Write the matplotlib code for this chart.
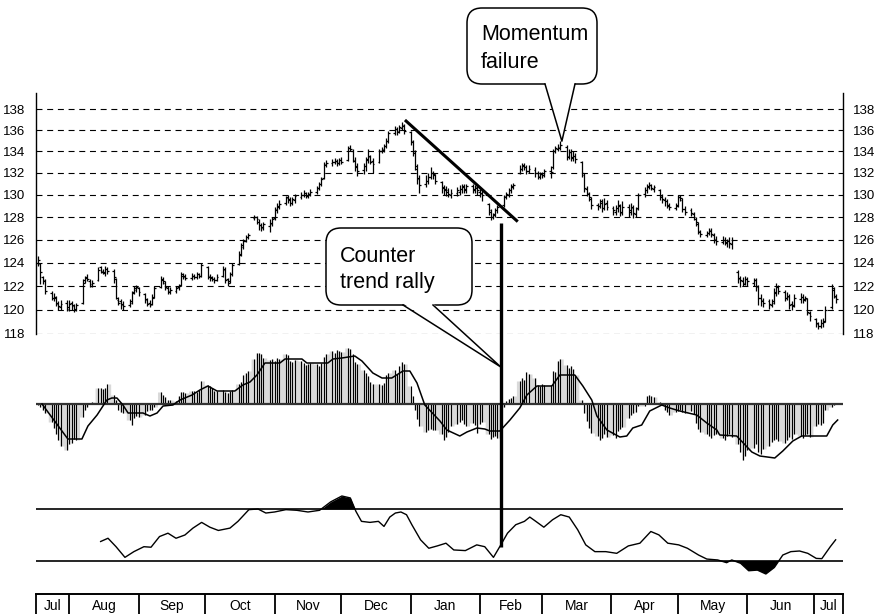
import matplotlib
matplotlib.use('Agg')
import matplotlib.pyplot as plt
import numpy as np
import pandas as pd
from matplotlib import font_manager
from matplotlib.patches import FancyBboxPatch, Polygon
from matplotlib.lines import Line2D
from matplotlib.transforms import IdentityTransform
from matplotlib.ticker import NullLocator, NullFormatter

# ---------------- data ----------------
START = pd.Timestamp('2000-07-17')
bar_dates = pd.bdate_range('2000-07-18', '2001-07-11')

opens = [
    124.0, 123.9, 122.8, 122.4,
    121.4, 121.0, 121.0, 120.5, 120.2,
    120.6, 120.1, 120.6, 120.4, 120.0,
    120.6, 122.5, 122.8, 122.4, 122.0,
    122.5, 123.6, 123.2, 123.1, 123.5,
    123.3, 122.6, 120.8, 120.7, 120.5,
    120.4, 120.7, 121.5, 121.7, 121.8,
    121.3, 120.8, 120.6, 120.5, 121.1,
    121.9, 122.5, 122.3, 121.8, 121.5,
    121.6, 121.9, 122.1, 122.9, 122.8,
    122.7, 122.9, 122.8, 123.0, 122.9,
    123.6, 122.8, 122.8, 122.6, 122.5,
    122.9, 123.4, 122.6, 122.4, 123.0,
    123.9, 124.7, 125.4, 125.9, 126.2,
    127.9, 128.0, 127.6, 127.3, 127.0,
    127.2, 127.4, 127.9, 128.6, 128.9,
    129.3, 129.8, 129.6, 129.3, 129.5,
    129.8, 130.0, 130.2, 129.9, 130.1,
    130.3, 130.6, 131.0, 131.5, 132.7,
    132.9, 133.0, 133.1, 132.9, 133.2,
    133.2, 134.3, 134.0, 133.1, 132.6,
    132.3, 132.6, 133.2, 133.5, 133.1,
    133.0, 134.0, 134.1, 134.5, 135.0,
    135.7, 136.1, 135.9, 136.2, 136.4,
    135.8, 134.9, 133.8, 132.4, 131.4,
    131.0, 131.3, 131.6, 132.0, 131.8,
    131.2, 130.7, 130.5, 130.4, 130.0,
    130.2, 130.3, 130.5, 130.8, 130.4,
    130.8, 130.4, 130.7, 130.3, 130.2,
    129.2, 128.5, 128.0, 128.3, 128.6,
    129.1, 129.9, 130.0, 130.4, 130.7,
    132.0, 132.4, 132.7, 132.5, 132.2,
    132.3, 132.0, 131.6, 131.9, 131.8,
    132.2, 132.5, 134.0, 134.2, 134.3,
    134.4, 133.5, 133.9, 133.5, 133.6,
    133.0, 131.8, 130.5, 130.1, 129.6,
    129.1, 129.0, 129.4, 128.8, 129.3,
    128.8, 128.5, 128.8, 129.0, 128.4,
    128.9, 128.5, 128.8, 128.3, 128.8,
    130.1, 130.4, 130.7, 130.9, 130.5,
    130.4, 129.9, 129.5, 129.4, 129.0,
    128.8, 129.1, 129.8, 129.5, 128.7,
    128.6, 128.3, 127.8, 127.4, 126.8,
    126.4, 126.6, 126.9, 126.4, 126.0,
    125.8, 126.0, 125.7, 126.0, 125.6,
    123.2, 122.6, 122.4, 122.2, 122.6,
    122.3, 122.5, 121.9, 121.0, 120.7,
    120.7, 120.4, 120.7, 121.4, 121.9,
    121.5, 121.0, 121.1, 120.5, 120.4,
    120.9, 121.1, 120.8, 120.9, 119.7,
    119.2, 118.8, 118.7, 118.9, 119.1,
    120.2, 121.7, 121.1,
]

highs = [
    124.6, 124.0, 122.9, 122.6,
    121.6, 121.4, 121.2, 120.7, 120.8,
    120.8, 120.8, 120.7, 120.5, 120.6,
    122.6, 122.9, 123.0, 122.6, 122.5,
    123.6, 123.7, 123.5, 123.7, 123.6,
    123.5, 122.7, 121.1, 120.9, 120.7,
    120.9, 121.6, 122.0, 122.1, 121.9,
    121.4, 121.0, 120.8, 121.3, 122.0,
    122.9, 122.8, 122.4, 122.0, 121.9,
    122.0, 122.2, 123.2, 123.1, 123.0,
    123.1, 123.0, 123.2, 123.1, 124.0,
    123.7, 123.0, 122.9, 122.8, 123.0,
    123.7, 123.6, 122.7, 123.2, 124.0,
    125.0, 125.7, 126.1, 126.4, 126.6,
    128.2, 128.1, 127.8, 127.5, 127.6,
    127.8, 128.0, 128.9, 129.3, 129.5,
    129.9, 130.0, 129.8, 129.8, 130.1,
    130.3, 130.4, 130.3, 130.3, 130.5,
    130.8, 131.2, 131.6, 133.0, 133.2,
    133.3, 133.4, 133.3, 133.4, 133.5,
    134.5, 134.6, 134.2, 133.5, 132.9,
    132.9, 133.5, 134.2, 133.7, 133.4,
    134.2, 134.4, 134.7, 135.2, 135.9,
    136.4, 136.3, 136.5, 136.8, 136.6,
    135.9, 135.1, 134.1, 132.8, 131.8,
    131.8, 132.0, 132.5, 132.2, 131.9,
    131.3, 130.9, 130.8, 130.6, 130.5,
    130.7, 130.9, 131.0, 131.0, 131.0,
    131.0, 130.9, 130.8, 130.5, 130.4,
    129.3, 128.7, 128.4, 128.8, 129.1,
    130.0, 130.3, 130.6, 131.0, 131.1,
    132.7, 132.9, 132.9, 132.7, 132.7,
    132.5, 132.2, 132.1, 132.1, 132.4,
    132.6, 134.2, 134.5, 134.7, 135.0,
    134.6, 134.2, 134.2, 134.0, 133.8,
    133.1, 132.0, 130.8, 130.3, 129.8,
    129.3, 129.6, 129.6, 129.7, 129.5,
    129.0, 129.1, 129.5, 129.2, 129.4,
    129.2, 129.3, 129.1, 128.9, 130.2,
    130.7, 131.0, 131.2, 131.0, 130.9,
    130.5, 130.1, 129.8, 129.6, 129.3,
    129.3, 130.0, 130.0, 129.7, 129.0,
    128.8, 128.5, 128.0, 127.6, 126.9,
    126.8, 127.0, 127.0, 126.6, 126.3,
    126.3, 126.2, 126.1, 126.2, 126.2,
    123.4, 122.9, 122.8, 122.9, 122.8,
    122.7, 122.7, 122.1, 121.3, 121.0,
    120.9, 120.9, 121.8, 122.3, 122.1,
    121.7, 121.5, 121.3, 120.7, 121.3,
    121.4, 121.3, 121.2, 121.0, 119.9,
    119.3, 119.0, 119.2, 119.3, 120.3,
    122.2, 121.9, 121.3,
]

lows = [
    123.7, 122.2, 122.2, 121.3,
    120.8, 120.7, 120.3, 120.0, 120.0,
    119.9, 119.9, 120.0, 119.8, 119.9,
    120.5, 122.3, 122.4, 121.9, 121.9,
    122.4, 123.1, 123.0, 122.9, 123.0,
    122.3, 120.9, 120.4, 120.1, 120.0,
    120.2, 120.5, 121.3, 121.5, 121.2,
    120.6, 120.3, 120.2, 120.4, 121.0,
    121.8, 122.2, 121.7, 121.3, 121.3,
    121.4, 121.7, 122.0, 122.6, 122.5,
    122.5, 122.6, 122.6, 122.7, 122.8,
    122.6, 122.4, 122.4, 122.3, 122.4,
    122.8, 122.3, 122.0, 122.3, 122.9,
    123.8, 124.6, 125.2, 125.8, 126.1,
    127.7, 127.4, 126.9, 126.8, 126.9,
    126.7, 127.2, 127.7, 128.4, 128.7,
    129.1, 129.3, 129.0, 129.1, 129.3,
    129.6, 129.8, 129.7, 129.7, 129.9,
    130.1, 130.4, 130.8, 131.4, 132.5,
    132.6, 132.8, 132.6, 132.7, 132.8,
    133.1, 134.0, 133.0, 132.2, 131.7,
    131.9, 132.2, 132.9, 132.8, 132.0,
    132.9, 133.8, 133.9, 134.3, 134.8,
    135.5, 135.5, 135.7, 136.0, 135.6,
    134.6, 133.6, 132.3, 131.0, 130.2,
    130.7, 131.0, 131.4, 131.4, 131.0,
    130.2, 130.0, 129.9, 129.8, 129.7,
    129.9, 130.0, 130.2, 130.2, 130.2,
    130.2, 130.2, 130.0, 129.8, 129.4,
    128.2, 127.7, 127.8, 128.0, 128.4,
    128.9, 129.6, 129.8, 130.2, 130.5,
    131.9, 132.2, 132.3, 131.9, 132.0,
    131.6, 131.4, 131.4, 131.5, 131.6,
    131.5, 132.4, 133.8, 134.0, 134.1,
    133.2, 133.3, 133.1, 133.1, 132.9,
    131.6, 130.3, 129.9, 129.4, 128.7,
    128.6, 128.8, 128.5, 128.6, 128.6,
    128.2, 128.2, 128.5, 128.1, 128.2,
    128.0, 128.2, 127.9, 128.0, 128.6,
    129.8, 130.2, 130.5, 130.4, 130.3,
    129.5, 129.3, 129.0, 128.8, 128.6,
    128.6, 128.9, 129.4, 128.5, 128.2,
    128.1, 127.7, 127.2, 126.5, 126.2,
    126.2, 126.4, 126.2, 125.7, 125.5,
    125.6, 125.5, 125.4, 125.3, 125.2,
    122.3, 121.9, 122.0, 122.1, 122.0,
    122.0, 121.6, 120.4, 120.3, 120.2,
    120.1, 120.2, 120.5, 121.2, 121.3,
    120.7, 120.8, 120.1, 120.0, 120.2,
    120.6, 120.6, 120.7, 119.6, 119.1,
    118.6, 118.4, 118.5, 118.6, 119.0,
    120.1, 121.0, 120.6,
]

closes = [
    124.2, 123.2, 122.5, 121.6,
    121.0, 121.1, 120.6, 120.3, 120.5,
    120.2, 120.5, 120.3, 120.1, 120.4,
    122.3, 122.7, 122.6, 122.2, 122.3,
    123.4, 123.3, 123.2, 123.5, 123.3,
    122.8, 121.0, 120.6, 120.4, 120.3,
    120.6, 121.4, 121.8, 121.9, 121.5,
    120.9, 120.5, 120.4, 121.0, 121.8,
    122.6, 122.4, 121.9, 121.6, 121.7,
    121.8, 122.0, 123.0, 122.9, 122.7,
    122.9, 122.8, 123.0, 122.9, 123.8,
    122.9, 122.7, 122.6, 122.5, 122.8,
    123.5, 122.5, 122.3, 123.0, 123.8,
    124.8, 125.5, 125.9, 126.2, 126.4,
    128.0, 127.8, 127.3, 127.1, 127.4,
    127.5, 127.8, 128.7, 129.0, 129.2,
    129.7, 129.5, 129.3, 129.6, 129.9,
    130.0, 130.2, 129.9, 130.1, 130.3,
    130.6, 131.0, 131.4, 132.8, 132.9,
    133.0, 133.1, 132.9, 133.2, 133.0,
    134.3, 134.2, 133.2, 132.5, 132.2,
    132.6, 133.3, 133.6, 133.0, 132.8,
    134.0, 134.2, 134.5, 135.0, 135.7,
    136.1, 135.8, 136.3, 136.5, 135.9,
    135.0, 134.0, 132.6, 131.5, 130.9,
    131.3, 131.6, 132.0, 131.9, 131.3,
    130.6, 130.4, 130.3, 130.1, 130.2,
    130.4, 130.5, 130.7, 130.5, 130.8,
    130.5, 130.6, 130.4, 130.1, 130.0,
    128.6, 128.0, 128.2, 128.6, 128.9,
    129.8, 130.1, 130.4, 130.8, 130.9,
    132.4, 132.6, 132.5, 132.2, 132.4,
    132.0, 131.7, 131.9, 131.8, 132.2,
    132.1, 134.0, 134.3, 134.4, 134.6,
    133.6, 133.9, 133.4, 133.6, 133.3,
    132.0, 130.6, 130.2, 129.8, 129.1,
    129.0, 129.3, 128.8, 129.2, 128.9,
    128.6, 128.8, 129.1, 128.5, 128.9,
    128.6, 128.9, 128.4, 128.7, 130.0,
    130.4, 130.8, 130.9, 130.6, 130.7,
    129.8, 129.6, 129.4, 129.1, 128.9,
    129.0, 129.8, 129.7, 128.7, 128.5,
    128.4, 128.0, 127.6, 126.7, 126.5,
    126.6, 126.8, 126.5, 126.1, 125.9,
    126.0, 125.8, 125.9, 125.7, 126.0,
    122.7, 122.5, 122.3, 122.6, 122.4,
    122.5, 122.0, 121.0, 120.8, 120.6,
    120.5, 120.6, 121.5, 121.9, 121.6,
    121.0, 121.2, 120.4, 120.3, 121.0,
    121.1, 120.9, 121.0, 119.8, 119.5,
    118.9, 118.7, 118.9, 119.0, 120.0,
    121.8, 121.2, 120.9,
]

# momentum histogram (one bar per trading day)
histogram = [
    -0.1, -0.3, -0.6, -0.9,
    -1.8, -2.4, -3.0, -3.6, -4.2,
    -4.6, -4.0, -3.9, -3.5, -3.6,
    -1.3, -0.6, -0.3, 0.1, 0.2,
    1.6, 1.6, 1.5, 1.6, 2.0,
    0.9, 0.4, -0.6, -0.8, -0.9,
    -1.6, -2.1, -1.4, -1.2, -1.3,
    -1.1, -0.7, -0.6, -0.6, -0.3,
    1.2, 0.9, 0.7, 0.4, 0.4,
    0.3, 0.8, 1.2, 1.2, 1.1,
    1.3, 1.3, 1.2, 1.4, 2.3,
    1.9, 1.8, 1.6, 1.3, 1.3,
    1.4, 1.2, 1.1, 1.3, 1.4,
    2.0, 2.2, 2.9, 3.1, 3.3,
    4.5, 5.1, 5.1, 5.0, 4.6,
    4.4, 4.5, 4.3, 4.6, 4.5,
    5.0, 4.9, 4.3, 4.2, 4.4,
    4.3, 4.1, 3.9, 4.0, 4.1,
    4.0, 3.8, 4.1, 4.7, 5.0,
    5.3, 5.1, 5.4, 5.3, 5.2,
    5.6, 5.5, 5.0, 4.2, 4.0,
    3.4, 3.1, 2.8, 2.2, 2.0,
    2.0, 1.9, 2.1, 2.9, 3.1,
    3.4, 3.0, 3.8, 4.2, 4.0,
    1.8, 0.8, -0.6, -1.5, -2.2,
    -2.8, -2.6, -2.5, -2.6, -2.6,
    -3.0, -3.6, -3.3, -2.8, -2.2,
    -2.0, -1.8, -1.6, -2.0, -2.2,
    -1.9, -2.1, -2.9, -2.0, -1.8,
    -3.0, -3.5, -3.3, -3.2, -3.4,
    -0.3, 0.3, 0.5, 0.6, 0.8,
    2.3, 2.6, 2.4, 3.2, 3.0,
    2.6, 1.9, 1.8, 2.0, 1.9,
    1.9, 3.3, 3.2, 4.3, 4.5,
    3.9, 3.6, 3.8, 3.5, 2.9,
    0.4, -0.9, -1.7, -2.4, -2.9,
    -3.2, -3.6, -3.4, -3.0, -3.3,
    -3.1, -3.4, -2.7, -2.5, -2.3,
    -1.4, -1.1, -0.9, -0.8, -0.2,
    -0.2, 0.8, 0.9, 0.8, 0.7,
    0.2, 0.1, -0.6, -0.8, -1.1,
    -0.8, -0.7, -0.6, -0.8, -0.9,
    -0.7, -1.0, -1.9, -2.5, -2.8,
    -3.0, -3.2, -3.4, -3.1, -3.0,
    -3.4, -3.6, -3.2, -3.0, -3.3,
    -4.0, -4.8, -5.6, -5.2, -4.6,
    -4.4, -4.0, -4.8, -5.0, -4.5,
    -4.2, -3.8, -3.6, -3.5, -3.7,
    -3.9, -3.6, -3.3, -3.5, -3.0,
    -3.2, -3.4, -3.1, -3.0, -3.3,
    -2.2, -2.0, -2.1, -1.9, -0.6,
    -0.3, -0.1, 0.0,
]

# signal line of the momentum panel (days after 17 Jul 2000, value)
signal_days = [2.7, 14.3, 20.6, 23.3, 27.4, 31.8, 34.0, 36.3, 39.0, 41.3, 48.0, 51.1,
               54.3, 57.0, 61.4, 64.6, 70.0, 73.5, 77.1, 81.2, 89.2, 92.8, 96.0, 99.1,
               102.7, 109.4, 111.7, 119.3, 121.5, 130.9, 133.2, 137.2, 143.0, 146.2,
               151.1, 155.2, 159.6, 164.6, 167.7, 170.9, 174.4, 181.2, 184.3, 190.1,
               193.3, 197.8, 201.3, 203.6, 208.1, 212.6, 217.0, 220.2, 224.7, 231.4,
               235.0, 241.7, 245.3, 249.3, 251.6, 256.1, 261.9, 265.0, 267.7, 271.7,
               275.3, 280.7, 284.3, 288.8, 296.4, 300.9, 305.4, 306.7, 314.3, 321.1,
               324.7, 331.4, 335.0, 339.5, 343.5, 354.7, 357.4, 359.6]
signal_vals = [0.0, -3.5, -3.5, -2.2, -1.1, 0.4, 0.6, 0.6, -0.1, -0.9, -0.9, -1.2,
               -0.9, -0.2, -0.1, 0.4, 0.9, 1.4, 1.8, 1.3, 1.3, 1.9, 2.2, 2.9,
               4.1, 4.1, 4.5, 4.5, 4.1, 4.1, 4.5, 4.6, 4.8, 4.3,
               3.1, 2.6, 2.6, 3.3, 3.3, 2.1, -0.1, -1.7, -2.6, -3.2,
               -2.8, -2.4, -2.5, -2.7, -2.7, -1.6, -0.4, 0.9, 1.8, 1.8,
               2.9, 2.9, 1.8, 0.4, -1.2, -2.6, -3.3, -3.2, -2.4, -2.1,
               -0.7, -0.1, -0.4, -0.7, -1.1, -1.9, -2.6, -3.1, -3.2, -4.8,
               -5.2, -5.4, -4.7, -3.7, -3.2, -3.2, -2.1, -1.6]

# lower oscillator (days after 17 Jul 2000, value); bands at 70 / 30
osc_days = [29.0, 32.3, 35.9, 39.9, 43.9, 48.4, 51.6, 55.4, 59.2, 62.8, 66.8, 70.4,
            74.3, 78.0, 81.8, 87.0, 90.6, 95.5, 99.6, 103.1, 107.0, 112.1, 117.0,
            122.0, 127.2, 132.2, 137.2, 141.0, 143.5, 146.0, 149.8, 153.6, 156.1,
            158.7, 161.2, 163.7, 166.2, 168.6, 172.5, 176.2, 180.0, 183.9, 187.4,
            192.6, 197.7, 201.3, 205.2, 208.5, 211.5, 215.2, 219.1, 221.5, 224.2,
            227.8, 231.7, 235.4, 239.2, 243.0, 246.6, 250.7, 255.6, 260.5, 265.7,
            270.9, 275.8, 279.4, 283.4, 288.3, 292.2, 297.2, 300.9, 305.8, 309.8,
            312.1, 316.1, 319.7, 323.6, 327.4, 331.2, 335.0, 338.6, 342.5, 346.2,
            350.0, 352.5, 356.3, 358.7]
osc_vals = [45.0, 47.5, 41.0, 32.8, 37.2, 41.0, 40.6, 48.8, 51.4, 47.5, 50.0, 55.3,
            59.7, 56.0, 53.5, 55.3, 60.5, 69.5, 70.0, 66.9, 67.7, 69.5, 69.0,
            67.7, 69.0, 75.5, 80.0, 78.5, 68.2, 60.5, 59.7, 60.5, 56.6,
            63.8, 66.9, 67.7, 65.6, 57.9, 46.3, 39.8, 41.6, 43.7, 38.5,
            38.0, 42.4, 41.0, 32.8, 42.4, 51.4, 57.9, 60.5, 63.8, 60.5,
            56.0, 61.7, 65.6, 63.8, 54.0, 42.4, 37.2, 37.2, 35.9, 41.6,
            43.7, 52.7, 50.1, 43.7, 42.4, 39.8, 34.6, 31.5, 30.8, 28.7,
            30.8, 28.2, 22.5, 23.0, 20.0, 25.0, 34.6, 37.2, 37.7, 35.9,
            32.0, 31.8, 41.0, 46.3]

price_ticks = [118, 120, 122, 124, 126, 128, 130, 132, 134, 136, 138]
month_labels = ['Jul', 'Aug', 'Sep', 'Oct', 'Nov', 'Dec', 'Jan',
                'Feb', 'Mar', 'Apr', 'May', 'Jun', 'Jul']
END_DATE = pd.Timestamp('2001-07-14')

# trend line (days, price) and marker line position
trend_days = [165.5, 216.1]
trend_prices = [136.95, 127.6]
marker_day = 208.5

n = len(bar_dates)
for name, arr in [('opens', opens), ('highs', highs), ('lows', lows),
                  ('closes', closes), ('histogram', histogram)]:
    assert len(arr) == n, f'{name}: {len(arr)} != {n}'
assert len(signal_days) == len(signal_vals)
assert len(osc_days) == len(osc_vals)

days = np.asarray((bar_dates - START).days, dtype=float)
opens = np.array(opens); highs = np.array(highs); lows = np.array(lows)
closes = np.array(closes); histogram = np.array(histogram)
osc_days = np.array(osc_days); osc_vals = np.array(osc_vals)

# ---------------- style ----------------
avail = {f.name for f in font_manager.fontManager.ttflist}
FONT = next((f for f in ['Liberation Sans', 'Arial', 'DejaVu Sans'] if f in avail), 'DejaVu Sans')
plt.rcParams['font.family'] = [FONT, 'DejaVu Sans']
plt.rcParams['lines.scale_dashes'] = False

W_PX, H_PX = 878, 614
fig = plt.figure(figsize=(W_PX / 100, H_PX / 100), dpi=100)
fig.patch.set_facecolor('white')

L = 36 / W_PX
W = 807 / W_PX
XMAX = 362.0

def frac_y(top_px, bottom_px):
    return (H_PX - bottom_px) / H_PX, (bottom_px - top_px) / H_PX

# ---------------- price panel ----------------
b, h = frac_y(93, 334)
axp = fig.add_axes([L, b, W, h])
axp.set_yscale('log')
axp.set_xlim(0, XMAX)
axp.set_ylim(118, 139.55)
axp.set_yticks(price_ticks, labels=[str(t) for t in price_ticks])
axp.yaxis.set_minor_locator(NullLocator())
axp.yaxis.set_minor_formatter(NullFormatter())
axp.set_xticks([])
axp.tick_params(axis='y', which='both', left=False, right=False,
                labelleft=True, labelright=True, pad=4, labelsize=9.5)
for s in ['top', 'bottom']:
    axp.spines[s].set_visible(False)
for s in ['left', 'right']:
    axp.spines[s].set_linewidth(1.0)
axp.grid(axis='y', which='major', color='black', linestyle=(0, (4.3, 3.4)), linewidth=0.8)
axp.set_axisbelow(True)

axp.vlines(days, lows, highs, color='black', linewidth=0.9)
axp.hlines(opens, days - 0.8, days, color='black', linewidth=0.9)
axp.hlines(closes, days, days + 0.8, color='black', linewidth=0.9)
axp.plot(trend_days, trend_prices, color='black', linewidth=2.2, solid_capstyle='butt')

# ---------------- momentum histogram panel ----------------
b, h = frac_y(339, 469)
axh = fig.add_axes([L, b, W, h])
axh.set_xlim(0, XMAX)
axh.set_ylim(-6.5, 6.5)
axh.axis('off')
axh.fill_between(days, 0, histogram, step='mid', color='#d9d9d9', linewidth=0)
axh.vlines(days, 0, histogram, color='black', linewidth=0.8)
axh.axhline(0, color='#333333', linewidth=1.6)
axh.plot(signal_days, signal_vals, color='black', linewidth=1.1)

# ---------------- oscillator panel ----------------
b, h = frac_y(483, 587)
axo = fig.add_axes([L, b, W, h])
axo.set_xlim(0, XMAX)
axo.set_ylim(10, 90)
axo.axis('off')
axo.axhline(70, color='black', linewidth=1.2)
axo.axhline(30, color='black', linewidth=1.2)
axo.plot(osc_days, osc_vals, color='black', linewidth=1.0)
axo.fill_between(osc_days, 70, osc_vals, where=osc_vals > 70, interpolate=True,
                 color='black', linewidth=0)
axo.fill_between(osc_days, 30, osc_vals, where=osc_vals < 30, interpolate=True,
                 color='black', linewidth=0)

# ---------------- month axis ----------------
b, h = frac_y(594, 614)
axm = fig.add_axes([L, b, W, h])
axm.set_xlim(0, XMAX)
axm.set_ylim(0, 1)
axm.axis('off')
month_starts = pd.date_range('2000-08-01', '2001-07-01', freq='MS')
bounds = [0.0] + [float((d - START).days) for d in month_starts] + [float((END_DATE - START).days)]
axm.axhline(1.0, color='black', linewidth=1.4, clip_on=False)
axm.vlines(bounds, 0, 1, color='black', linewidth=1.3, clip_on=False)
for i, lab in enumerate(month_labels):
    axm.text((bounds[i] + bounds[i + 1]) / 2, 0.42, lab, ha='center', va='center',
             fontsize=10)

# ---------------- vertical marker line across panels ----------------
ID = IdentityTransform()
x_top, y_top = axp.transData.transform((marker_day, 127.5))
x_bot, y_bot = axo.transData.transform((marker_day, 40.5))
fig.add_artist(Line2D([x_top, x_bot], [y_top, y_bot], color='black', linewidth=2.4,
                      transform=ID, zorder=15, solid_capstyle='butt'))

# ---------------- callouts ----------------
def callout(x0, y0, x1, y1, bl, br, tip, lines, text_x, baselines, fs=15.5):
    # box corners in pixels from the top-left; tip in display coords
    box = FancyBboxPatch((x0, H_PX - y1), x1 - x0, y1 - y0,
                         boxstyle='round,pad=0,rounding_size=15',
                         facecolor='white', edgecolor='black', linewidth=1.1,
                         transform=ID, zorder=20)
    fig.add_artist(box)
    yb = H_PX - y1
    tri = Polygon([(bl, yb + 1.5), tip, (br, yb + 1.5)], closed=True,
                  facecolor='white', edgecolor='none', transform=ID, zorder=21)
    fig.add_artist(tri)
    fig.add_artist(Line2D([bl, tip[0], br], [yb, tip[1], yb], color='black',
                          linewidth=1.1, transform=ID, zorder=22))
    for t, base in zip(lines, baselines):
        fig.text(text_x / W_PX, (H_PX - base) / H_PX, t, ha='left', va='baseline',
                 fontsize=fs, zorder=23)

tip_m = tuple(axp.transData.transform((235.9, 134.95)))
callout(467, 8, 597, 84, 545, 575, tip_m, ['Momentum', 'failure'], 481, [40.5, 68.0])

tip_c = tuple(axh.transData.transform((marker_day, 3.7)))
callout(326, 228, 472, 305, 403, 433, tip_c, ['Counter', 'trend rally'], 340, [261.5, 288.0])

fig.savefig('out.png', dpi=100)
